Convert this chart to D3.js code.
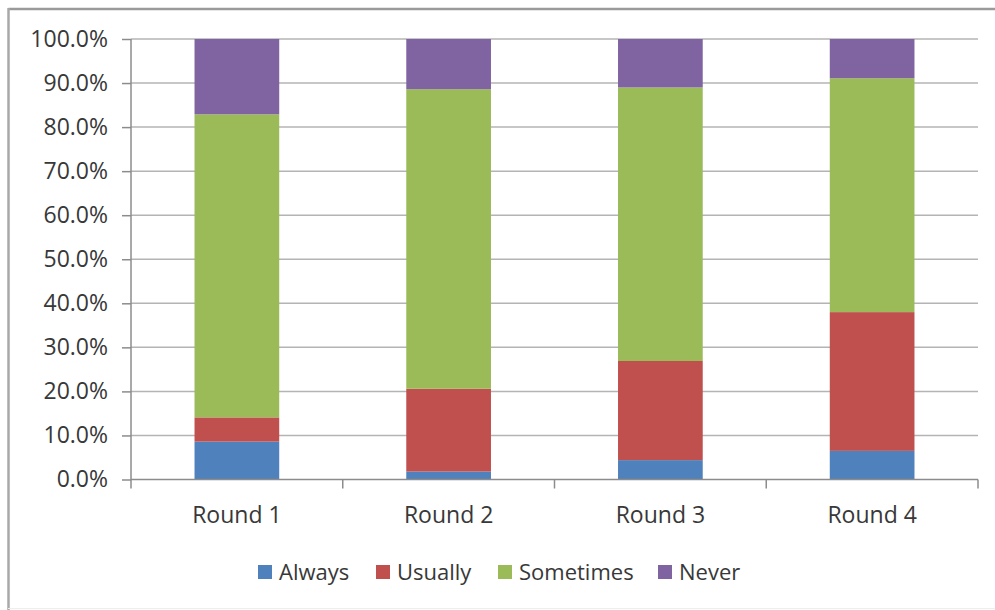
<!DOCTYPE html>
<html>
<head>
<meta charset="utf-8">
<script src="https://cdn.jsdelivr.net/npm/d3@7"></script>
<style>
  html, body { margin: 0; padding: 0; background: #fff; }
  svg { display: block; }
  text { font-family: "Open Sans", "Liberation Sans", sans-serif; fill: #383838; }
</style>
</head>
<body>
<svg id="chart" width="995" height="610"></svg>
<script>
const categories = ["Round 1", "Round 2", "Round 3", "Round 4"];
const seriesNames = ["Always", "Usually", "Sometimes", "Never"];
const always    = [8.6, 1.8, 4.4, 6.5];
const usually   = [5.5, 18.8, 22.5, 31.5];
const sometimes = [68.8, 68.0, 62.1, 53.1];
const never     = [17.1, 11.4, 11.0, 8.9];
const yTicks = [0, 10, 20, 30, 40, 50, 60, 70, 80, 90, 100];
const colors = ["#4f81bd", "#c0504d", "#9bbb59", "#8064a2"];

const seriesValues = [always, usually, sometimes, never];
const rows = categories.map((c, i) => {
  const r = { cat: c };
  seriesNames.forEach((s, j) => r[s] = seriesValues[j][i]);
  return r;
});

const svg = d3.select("#chart");
const W = 995, H = 610;
const plot = { left: 131, right: 978, top: 39, bottom: 479.5 };
const textColor = "#383838";

// outer frame
svg.append("line").attr("x1", 8.5).attr("x2", W).attr("y1", 9).attr("y2", 9)
  .attr("stroke", "#9a9a9a").attr("stroke-width", 2.5);
svg.append("line").attr("x1", 8.5).attr("x2", 8.5).attr("y1", 8).attr("y2", H)
  .attr("stroke", "#a8a8a8").attr("stroke-width", 2.5);
svg.append("line").attr("x1", 8).attr("x2", W).attr("y1", 608.5).attr("y2", 608.5)
  .attr("stroke", "#eeeeee").attr("stroke-width", 1);

const x = d3.scaleBand().domain(categories).range([plot.left, plot.right])
  .paddingInner(0.6).paddingOuter(0.3);
const y = d3.scaleLinear().domain([0, 100]).range([plot.bottom, plot.top]);

// gridlines
svg.append("g").selectAll("line").data(yTicks.filter(t => t > 0)).join("line")
  .attr("x1", plot.left).attr("x2", plot.right)
  .attr("y1", d => y(d)).attr("y2", d => y(d))
  .attr("stroke", "#b4b4b4").attr("stroke-width", 1.5);

// stacked bars
const stack = d3.stack().keys(seriesNames)(rows);
svg.append("g").selectAll("g").data(stack).join("g")
  .attr("fill", (d, i) => colors[i])
  .selectAll("rect").data(d => d).join("rect")
  .attr("x", d => x(d.data.cat))
  .attr("width", x.bandwidth())
  .attr("y", d => y(d[1]))
  .attr("height", d => y(d[0]) - y(d[1]));

// y axis
const yAxis = d3.axisLeft(y).tickValues(yTicks).tickSize(9).tickPadding(14)
  .tickFormat(d => d3.format(".1f")(d) + "%");
const gy = svg.append("g").attr("transform", `translate(${plot.left},0)`).call(yAxis);
gy.select(".domain").attr("stroke", "#8c8c8c").attr("stroke-width", 1.5)
  .attr("d", `M0,${plot.top}V${plot.bottom + 9}`);
gy.selectAll(".tick line").attr("stroke", "#8c8c8c").attr("stroke-width", 1.5);
gy.selectAll(".tick text").style("font-size", "23px").attr("fill", textColor)
  .style("font-family", '"Open Sans", sans-serif');

// x axis
const xAxis = d3.axisBottom(x).tickSize(0).tickPadding(27);
const gx = svg.append("g").attr("transform", `translate(0,${plot.bottom})`).call(xAxis);
gx.select(".domain").attr("stroke", "#8c8c8c").attr("stroke-width", 1.5)
  .attr("d", `M${plot.left},0H${plot.right}`);
gx.selectAll(".tick text").style("font-size", "23px").attr("fill", textColor)
  .style("font-family", '"Open Sans", sans-serif');
// category boundary ticks
const bounds = d3.range(categories.length + 1).map(i => plot.left + i * (plot.right - plot.left) / categories.length);
svg.append("g").selectAll("line").data(bounds.slice(1)).join("line")
  .attr("x1", d => d).attr("x2", d => d)
  .attr("y1", plot.bottom).attr("y2", plot.bottom + 9)
  .attr("stroke", "#8c8c8c").attr("stroke-width", 1.5);

// legend
const legendX = [258, 376, 498, 658];
const lg = svg.append("g").selectAll("g").data(seriesNames).join("g")
  .attr("transform", (d, i) => `translate(${legendX[i]},565)`);
lg.append("rect").attr("width", 14).attr("height", 14).attr("fill", (d, i) => colors[i]);
lg.append("text").attr("x", 21).attr("y", 15).text(d => d)
  .style("font-size", "22px").attr("fill", textColor);
</script>
</body>
</html>
